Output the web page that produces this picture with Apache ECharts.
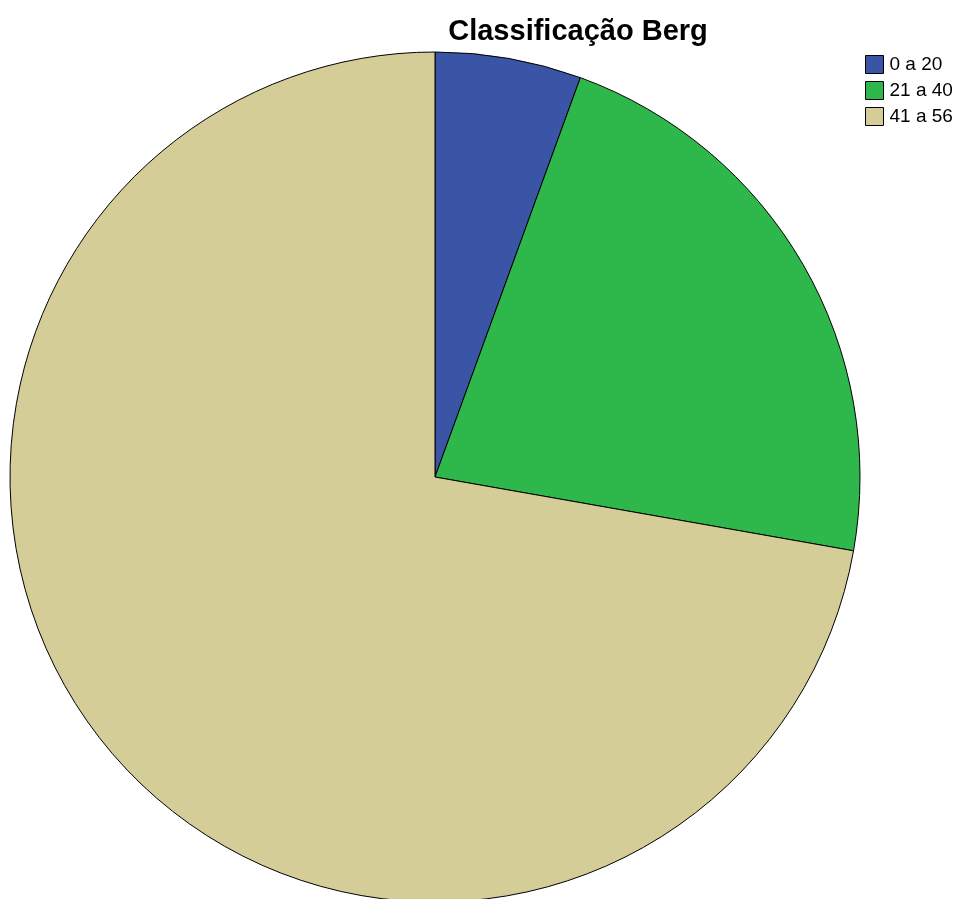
<!DOCTYPE html>
<html>
<head>
<meta charset="utf-8">
<script src="https://cdn.jsdelivr.net/npm/echarts@6/dist/echarts.min.js"></script>
<style>
  html, body { margin: 0; padding: 0; background: #fff; }
  #chart { width: 960px; height: 899px; }
</style>
</head>
<body>
<div id="chart"></div>
<script>
// dados do gráfico
var categorias = ['0 a 20', '21 a 40', '41 a 56'];
var valores = [1, 4, 13];
var cores = ['#3b55a6', '#2eb84b', '#d4cd98'];

var chart = echarts.init(document.getElementById('chart'));

var dados = categorias.map(function (c, i) {
  return { name: c, value: valores[i], itemStyle: { color: cores[i] } };
});

var option = {
  animation: false,
  title: {
    text: 'Classificação Berg',
    left: 573,
    top: 12,
    textAlign: 'center',
    textStyle: { fontFamily: 'Liberation Sans, Arial', fontSize: 29, fontWeight: 'bold', color: '#000' }
  },
  legend: {
    orient: 'vertical',
    left: 865,
    top: 55,
    padding: 0,
    itemWidth: 18,
    itemHeight: 18,
    itemGap: 7,
    icon: 'rect',
    data: categorias,
    textStyle: { fontFamily: 'Liberation Sans, Arial', fontSize: 19, color: '#000', padding: [0, 0, 0, 1] },
    itemStyle: { borderColor: '#000', borderWidth: 1 }
  },
  series: [{
    type: 'pie',
    center: [435, 477],
    radius: 425,
    startAngle: 90,
    clockwise: true,
    label: { show: false },
    labelLine: { show: false },
    itemStyle: { borderColor: '#000', borderWidth: 1 },
    emphasis: { disabled: true },
    data: dados
  }]
};

chart.setOption(option);
</script>
</body>
</html>
